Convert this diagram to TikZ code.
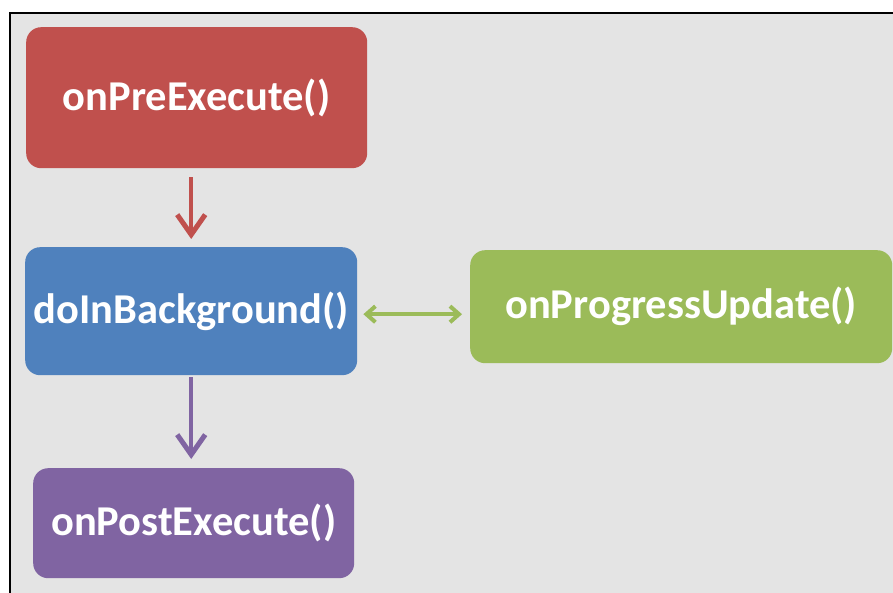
\documentclass[tikz,border=0pt]{standalone}
\usepackage{fontspec}
\setmainfont{Carlito}
\usetikzlibrary{arrows.meta}
\definecolor{bgc}{HTML}{E4E4E4}
\definecolor{redc}{HTML}{C0504D}
\definecolor{bluec}{HTML}{4F81BD}
\definecolor{greenc}{HTML}{9BBB59}
\definecolor{purplec}{HTML}{8064A2}
\begin{document}
\begin{tikzpicture}[x=1pt,y=-1pt,
  box/.style={rounded corners=15pt, text=white, font=\bfseries\fontsize{42.5}{48}\selectfont, inner sep=0pt, anchor=north west},
  bigarrow/.style={line width=4.5pt, -{Straight Barb[length=20pt,width=28pt,line width=5pt]}},
  duoarrow/.style={line width=3.5pt, {Straight Barb[length=9pt,width=16pt,line width=4pt]}-{Straight Barb[length=9pt,width=16pt,line width=4pt]}}]
\useasboundingbox (0,0) rectangle (893,593);
\fill[white] (0,0) rectangle (893,593);
\fill[bgc] (10,13) rectangle (893,593);
\draw[line width=1.8pt] (10,593) -- (10,13) -- (893,13);
\node[box, fill=redc, minimum width=341pt, minimum height=141pt] (pre) at (26,27) {onPreExecute()};
\node[box, fill=bluec, minimum width=332pt, minimum height=128pt] (bg) at (25,247) {doInBackground()};
\node[box, fill=greenc, minimum width=422pt, minimum height=113pt] (prog) at (470,250) {onProgressUpdate()};
\node[box, fill=purplec, minimum width=321pt, minimum height=110pt] (post) at (33,468) {onPostExecute()};
\draw[bigarrow, redc, shorten <=9pt, shorten >=8pt] (pre.south -| bg.north) -- (bg.north);
\draw[bigarrow, purplec, shorten <=2pt, shorten >=9pt] (bg.south) -- (bg.south |- post.north);
\draw[duoarrow, greenc, shorten <=6pt, shorten >=8pt] ([yshift=-3pt]bg.east) -- ([yshift=-3pt]bg.east -| prog.west);
\end{tikzpicture}
\end{document}
